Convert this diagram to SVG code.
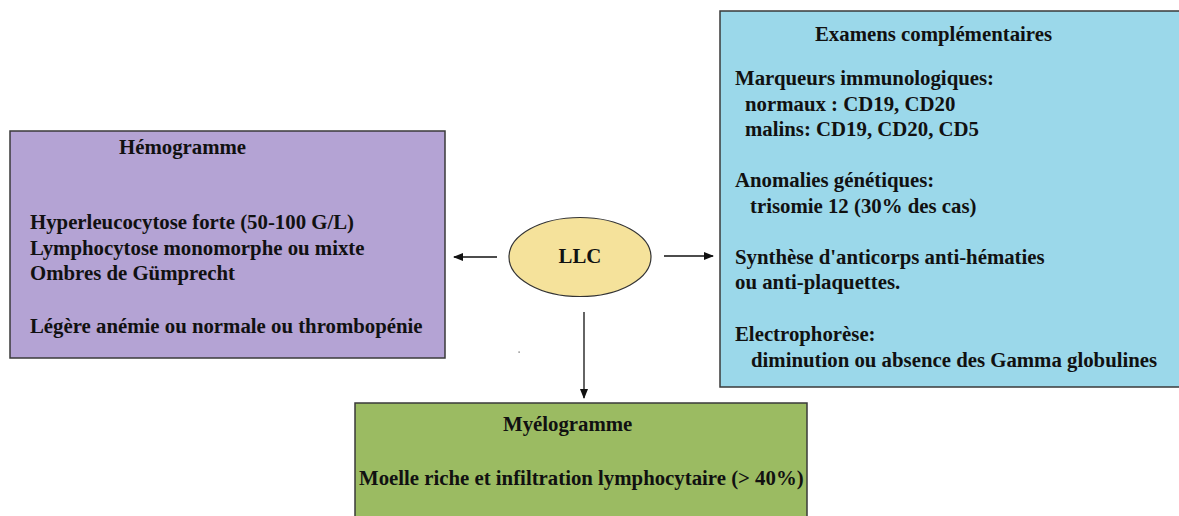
<svg xmlns="http://www.w3.org/2000/svg" width="1179" height="516" viewBox="0 0 1179 516">
<defs>
<style>
.box{stroke:#3a3a3a;stroke-width:1.5}
.t{font-family:'Liberation Serif','Times New Roman',serif;font-weight:700;font-size:20.8px;fill:#111}
.c{stroke:#111;stroke-width:1.3;fill:none}
</style>
<marker id="ah" viewBox="0 0 10 10" refX="9" refY="5" markerWidth="10" markerHeight="10" markerUnits="userSpaceOnUse" orient="auto">
<path d="M0,1 L10,5 L0,9 z" fill="#111"/>
</marker>
</defs>
<rect width="1179" height="516" fill="#fff"/>
<g id="connectors">
<line class="c" x1="497" y1="257" x2="454" y2="257" marker-end="url(#ah)"/>
<line class="c" x1="664" y1="256" x2="713" y2="256" marker-end="url(#ah)"/>
<line class="c" x1="584" y1="312" x2="584" y2="398" marker-end="url(#ah)"/>
</g>
<g id="hemogramme">
<rect class="box" x="10" y="131" width="435" height="227" fill="#B4A3D4"/>
<text class="t" x="119" y="154">Hémogramme</text>
<text class="t" x="30" y="229">Hyperleucocytose forte (50-100 G/L)</text>
<text class="t" x="30" y="255">Lymphocytose monomorphe ou mixte</text>
<text class="t" x="30" y="280">Ombres de Gümprecht</text>
<text class="t" x="30" y="333">Légère anémie ou normale ou thrombopénie</text>
</g>
<g id="examens">
<rect class="box" x="720" y="11" width="465" height="376" fill="#9BD8EA"/>
<text class="t" x="815" y="41">Examens complémentaires</text>
<text class="t" x="735" y="85">Marqueurs immunologiques:</text>
<text class="t" x="745" y="111">normaux : CD19, CD20</text>
<text class="t" x="745" y="136">malins: CD19, CD20, CD5</text>
<text class="t" x="735" y="187">Anomalies génétiques:</text>
<text class="t" x="750" y="213">trisomie 12 (30% des cas)</text>
<text class="t" x="735" y="264">Synthèse d'anticorps anti-hématies</text>
<text class="t" x="735" y="289">ou anti-plaquettes.</text>
<text class="t" x="735" y="341">Electrophorèse:</text>
<text class="t" x="751" y="367">diminution ou absence des Gamma globulines</text>
</g>
<g id="llc">
<ellipse cx="580" cy="257" rx="71" ry="39.5" fill="#F5E29B" stroke="#333" stroke-width="1.2"/>
<text class="t" x="580" y="263" text-anchor="middle">LLC</text>
</g>
<g id="myelogramme">
<rect class="box" x="355" y="403" width="452" height="120" fill="#9BBB62"/>
<text class="t" x="503" y="431">Myélogramme</text>
<text class="t" x="359" y="485">Moelle riche et infiltration lymphocytaire (&gt; 40%)</text>
</g>
<rect x="518.5" y="351.5" width="1.2" height="1.2" fill="#555"/>
</svg>
